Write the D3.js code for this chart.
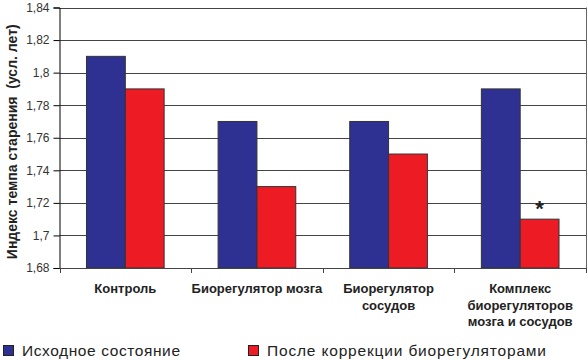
<!DOCTYPE html>
<html><head><meta charset="utf-8">
<script src="https://cdn.jsdelivr.net/npm/d3@7"></script>
<style>body{margin:0;background:#fff;} text{font-family:Arial,"Liberation Sans",sans-serif;}</style>
</head><body>
<svg id="c" width="588" height="360"></svg>
<script>
const categories = [["Контроль"], ["Биорегулятор мозга"], ["Биорегулятор", "сосудов"], ["Комплекс", "биорегуляторов", "мозга и сосудов"]];
const seriesNames = ["Исходное состояние", "После коррекции биорегуляторами"];
const baseline = [1.81, 1.77, 1.77, 1.79];
const corrected = [1.79, 1.73, 1.75, 1.71];
const yTicks = [1.68, 1.70, 1.72, 1.74, 1.76, 1.78, 1.80, 1.82, 1.84];
const colors = ["#2e3192", "#ed1c24"];
const yTitle = "Индекс темпа старения  (усл. лет)";

const svg = d3.select("#c");
const L = 59.5, R = 586, T = 7.5, B = 268;
const x0 = d3.scaleBand().domain(d3.range(categories.length)).range([L, R]).paddingInner(0).paddingOuter(0);
const x1 = d3.scaleBand().domain([0, 1]).range([0, x0.bandwidth() * 0.59]);
const y = d3.scaleLinear().domain([1.68, 1.84]).range([B, T]);
const fmt = v => d3.format(".2f")(v).replace(/0+$/, "").replace(/\.$/, "").replace(".", ",");

// gridlines
svg.append("g").selectAll("line").data(yTicks.slice(1)).join("line")
  .attr("x1", L).attr("x2", R).attr("y1", d => Math.round(y(d)) + 0.5).attr("y2", d => Math.round(y(d)) + 0.5)
  .attr("stroke", "#444").attr("stroke-width", 1);
// right border
svg.append("line").attr("x1", R + 0.5).attr("x2", R + 0.5).attr("y1", y(1.84)).attr("y2", B + 5).attr("stroke", "#666");

// bars
const data = categories.map((c, i) => [baseline[i], corrected[i]]);
const groupOffset = (x0.bandwidth() - x1.range()[1]) / 2;
const g = svg.append("g").selectAll("g").data(data).join("g")
  .attr("transform", (d, i) => `translate(${x0(i) + groupOffset},0)`);
g.selectAll("rect").data(d => d).join("rect")
  .attr("x", (d, j) => x1(j)).attr("width", x1.bandwidth())
  .attr("y", d => y(d)).attr("height", d => B - y(d))
  .attr("fill", (d, j) => colors[j]).attr("stroke", "#333").attr("stroke-width", 1);

// axes
const yAxis = d3.axisLeft(y).tickValues(yTicks).tickFormat(fmt).tickSize(6).tickPadding(4);
const ya = svg.append("g").attr("transform", `translate(${L},0)`).call(yAxis);
ya.select(".domain").attr("stroke", "#000");
ya.selectAll(".tick line").attr("stroke", "#000");
ya.selectAll(".tick text").attr("font-size", 12).attr("fill", "#333").attr("font-family", "Arial");

svg.append("line").attr("x1", L).attr("x2", R).attr("y1", B + 0.5).attr("y2", B + 0.5).attr("stroke", "#444");
svg.append("g").selectAll("line").data(d3.range(categories.length + 1)).join("line")
  .attr("x1", i => Math.round(L + i * x0.step()) + 0.5).attr("x2", i => Math.round(L + i * x0.step()) + 0.5)
  .attr("y1", B).attr("y2", B + 5).attr("stroke", "#444");

// category labels
categories.forEach((lines, i) => {
  const t = svg.append("text").attr("text-anchor", "middle").attr("font-weight", "bold").attr("font-size", 13).attr("fill", "#222");
  lines.forEach((ln, k) => t.append("tspan").attr("x", x0(i) + x0.bandwidth() / 2).attr("y", 293 + k * 16.5).text(ln));
});

// asterisk
svg.append("text").attr("x", x0(3) + groupOffset + x1(1) + x1.bandwidth() / 2).attr("y", y(corrected[3]) - 3)
  .attr("text-anchor", "middle").attr("font-size", 22).attr("font-weight", "bold").attr("fill", "#222").text("*");

// y title
svg.append("text").attr("transform", `translate(17,${(T + B) / 2 + 4}) rotate(-90)`).attr("text-anchor", "middle")
  .attr("font-weight", "bold").attr("font-size", 14).attr("fill", "#222").style("white-space", "pre").text(yTitle);

// legend
const legX = [3, 248];
const legW = [158, 279];
seriesNames.forEach((n, j) => {
  svg.append("rect").attr("x", legX[j] + 0.5).attr("y", 345.5).attr("width", 10).attr("height", 10)
    .attr("fill", colors[j]).attr("stroke", "#222");
  svg.append("text").attr("x", legX[j] + 19).attr("y", 356).attr("font-size", 15.5)
    .attr("textLength", legW[j]).attr("lengthAdjust", "spacing").attr("fill", "#222").text(n);
});
</script>
</body></html>
